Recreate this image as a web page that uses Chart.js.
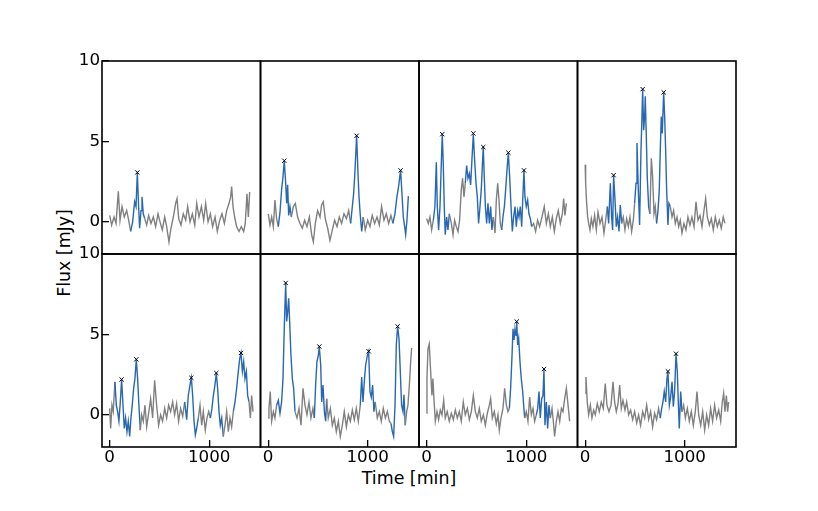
<!DOCTYPE html>
<html><head><meta charset="utf-8">
<script src="https://cdn.jsdelivr.net/npm/chart.js@4"></script>
<style>
html,body{margin:0;padding:0;background:#fff;}
#wrap{position:relative;width:818px;height:511px;overflow:hidden;font-family:"DejaVu Sans",sans-serif;background:#fff;}
#wrap canvas{position:absolute;left:0;top:0;}
.lab{position:absolute;font-size:17.4px;line-height:1;white-space:nowrap;color:#000;font-family:"DejaVu Sans",sans-serif;}
</style></head><body>
<div id="wrap">
 <div class="lab" style="left:409px;top:479px;transform:translate(-50%,-50%);">Time [min]</div>
 <div class="lab" style="left:65px;top:253px;transform:translate(-50%,-50%) rotate(-90deg);">Flux [mJy]</div>
</div>
<script>
// ---- data (time [min], flux [mJy]) ----
const xTicks = [0, 1000];
const yTicks = [0, 5, 10];

const flux1 = [[0,0.4],[20,-0.2],[44,0.3],[64,-0.1],[87,1.9],[104,0.1],[124,0.95],[147,0.3],[171,0.7],[191,0.1],[211,-0.6],[231,0],[251,1.25],[265,0.95],[278,3.05],[291,0.95],[301,-0.4],[315,0.7],[325,1.55],[338,0.5],[352,0.2],[372,-0.2],[392,0.4],[415,-0.1],[439,0.3],[462,-0.3],[486,0.5],[506,0],[529,-0.5],[553,0.3],[573,-0.3],[596,-1.25],[616,-0.4],[640,0.3],[663,1.15],[677,1.45],[694,0.2],[717,-0.2],[740,0.5],[764,0.1],[784,0.95],[808,0],[831,0.5],[855,-0.2],[875,1.15],[898,0.3],[922,0.95],[945,0.1],[965,1.15],[989,0],[1012,0.5],[1035,-0.3],[1059,0.3],[1082,-0.6],[1106,0.1],[1129,0.5],[1153,-0.1],[1176,0.7],[1200,1.15],[1216,1.55],[1226,2.2],[1240,0.95],[1256,0.3],[1276,-0.3],[1300,-0.6],[1323,-0.3],[1347,-0.6],[1363,-0.1],[1380,1.75],[1394,0.3],[1407,1.85]];
const flares1 = [[205,355]];
const peaks1 = [[278,3.07]];

const flux2 = [[1,0.5],[18,-0.2],[35,0.3],[52,-0.3],[68,1.35],[85,0.2],[102,-0.3],[119,0.6],[135,2.0],[149,2.8],[162,3.8],[176,2.4],[186,1.15],[196,2.3],[206,0.4],[219,0.95],[233,0.3],[253,0.95],[273,1.15],[296,0.3],[320,-0.1],[343,-0.4],[367,0.1],[390,-0.3],[414,0.3],[437,-0.8],[454,-1.25],[474,-0.1],[497,0.7],[521,0.3],[537,1.05],[554,1.25],[574,0.2],[598,-0.4],[621,-1.15],[645,-0.5],[668,0.1],[692,-0.3],[715,0.3],[738,-0.1],[762,0.5],[786,0.2],[809,0.7],[829,-0.1],[846,0.95],[859,1.75],[872,3.1],[889,5.35],[903,3.0],[913,1.55],[926,0.4],[940,-0.6],[956,0.3],[976,-0.5],[1000,0.1],[1023,-0.3],[1046,0.4],[1070,-0.1],[1094,0.3],[1117,-0.2],[1140,0.95],[1164,0.1],[1187,0.5],[1211,-0.1],[1234,0.4],[1254,-0.1],[1274,0.5],[1294,1.55],[1311,2.2],[1331,3.2],[1345,1.75],[1358,0.3],[1372,-0.3],[1382,-0.8],[1395,0.1],[1409,1.6]];
const flares2 = [[95,235],[815,960],[1245,1415]];
const peaks2 = [[162,3.8],[889,5.35],[1331,3.2]];

const flux3 = [[0,0.2],[16,-0.1],[33,0.3],[50,-0.5],[67,0.1],[83,0.95],[97,3.7],[107,0.95],[120,-0.5],[134,0.95],[147,3.6],[157,5.45],[167,3.6],[177,0.95],[187,-0.8],[201,0.3],[214,-0.5],[228,0.5],[248,-0.1],[265,-0.8],[281,0.1],[298,-0.3],[315,-0.6],[331,0.1],[348,2.0],[361,2.7],[375,1.55],[388,2.4],[402,3.5],[415,2.7],[429,3.0],[442,2.3],[455,3.85],[469,5.45],[482,3.85],[496,2.4],[509,1.55],[522,-0.1],[536,0.95],[549,2.0],[559,3.4],[569,4.65],[579,2.8],[590,0.95],[603,-0.1],[616,1.15],[630,-0.1],[643,0.95],[656,-0.5],[670,0.3],[687,-0.7],[700,1.35],[714,2.4],[727,1.35],[740,-0.1],[754,-0.5],[767,0.3],[781,0.95],[794,2.0],[807,3.2],[821,4.3],[834,2.8],[848,0.95],[861,-0.6],[874,0.3],[888,0.95],[901,-0.3],[915,0.7],[928,0.3],[941,0.95],[955,-0.3],[968,1.75],[978,3.2],[988,1.55],[1001,0.95],[1015,1.35],[1028,0.5],[1042,0.2],[1055,-0.3],[1075,-0.1],[1095,-0.6],[1115,0.1],[1135,-0.3],[1159,0.3],[1182,0.95],[1203,-0.1],[1223,0.5],[1243,-0.3],[1263,0.3],[1283,-0.6],[1303,0.2],[1323,0.7],[1343,-0.1],[1364,0.5],[1377,1.45],[1390,0.4],[1404,1.15]];
const flares3 = [[65,230],[385,672],[750,1058]];
const peaks3 = [[157,5.45],[469,5.5],[569,4.65],[821,4.3],[978,3.2]];

const flux4 = [[0,3.55],[5,2.4],[15,1.15],[25,0.3],[35,-0.1],[48,-0.5],[62,0.2],[78,-0.3],[95,0.4],[112,-0.5],[129,0.6],[149,-0.1],[169,0.3],[189,-0.7],[206,0.1],[223,0.95],[236,-0.1],[253,2.4],[266,0.3],[276,-0.5],[286,2.9],[300,1.35],[313,-0.3],[326,0.3],[340,-0.6],[353,1.05],[367,-0.1],[383,0.3],[400,-0.5],[417,0.2],[434,-0.3],[450,0.3],[467,-0.6],[484,0.1],[497,1.15],[511,2.4],[521,4.9],[534,2.0],[547,-0.2],[561,4.45],[571,6.55],[578,8.25],[588,5.7],[598,6.55],[604,7.8],[614,5.5],[624,2.8],[638,0.95],[651,0.5],[665,3.95],[678,2.8],[692,0.5],[705,0.95],[718,-0.1],[732,0.7],[745,2.0],[755,4.45],[765,6.55],[775,5.5],[789,8.05],[799,6.55],[809,4.45],[819,2.0],[832,-0.2],[842,1.15],[856,0.95],[873,0.3],[889,0.7],[906,-0.1],[923,0.3],[940,-0.3],[956,0.1],[973,-0.7],[993,-0.1],[1013,-0.5],[1033,0.3],[1053,-0.2],[1073,0.3],[1094,-0.3],[1114,1.25],[1134,0.1],[1154,0.4],[1174,-0.3],[1194,0.7],[1211,1.45],[1228,0.3],[1248,-0.2],[1268,0.2],[1288,-0.5],[1308,0.3],[1328,-0.3],[1348,0.1],[1368,-0.4],[1388,0.3],[1405,-0.1]];
const flares4 = [[215,370],[495,655],[715,860]];
const peaks4 = [[286,2.9],[578,8.25],[789,8.05]];

const flux5 = [[0,0.4],[10,-0.85],[23,0.6],[36,0.2],[53,2.05],[67,0.6],[80,0.2],[93,-0.4],[107,0.8],[120,2.2],[134,0.6],[147,-0.85],[160,-0.2],[174,-1.05],[187,-0.4],[201,-1.35],[214,-0.2],[227,0.6],[241,1.65],[254,2.25],[268,3.45],[281,2.25],[294,0.6],[308,-0.95],[321,0],[338,-0.4],[355,0.6],[372,-0.75],[392,0.1],[412,1.0],[432,-0.2],[452,2.15],[472,0.6],[492,-0.65],[512,0],[532,-0.4],[553,0.4],[573,-0.2],[593,0.6],[613,0.2],[633,0.8],[653,0],[673,0.7],[693,-0.4],[713,0.4],[734,-0.1],[754,0.8],[774,-0.3],[790,1.2],[807,1.85],[821,2.3],[834,1.2],[848,-0.4],[861,-1.25],[874,-0.85],[891,-0.2],[908,0.6],[925,-0.65],[941,0.2],[961,-0.95],[978,-0.2],[995,0.2],[1012,-0.2],[1028,0.4],[1042,1.2],[1058,1.85],[1072,2.6],[1085,1.65],[1099,0.2],[1112,-0.65],[1126,-0.2],[1142,-1.35],[1159,-0.65],[1176,0.2],[1193,-1.05],[1209,-0.2],[1226,-0.75],[1243,0.2],[1260,0.8],[1276,1.65],[1293,2.7],[1307,3.5],[1320,3.85],[1334,2.7],[1347,3.3],[1360,2.25],[1374,2.7],[1387,1.2],[1401,0.8],[1414,-0.2],[1427,1.2],[1441,0.2]];
const flares5 = [[45,320],[750,895],[1005,1155],[1240,1402]];
const peaks5 = [[120,2.2],[268,3.45],[821,2.3],[1072,2.6],[1320,3.85]];

const flux6 = [[0,-0.2],[8,0.4],[21,1.45],[35,-0.4],[52,0.2],[68,-0.2],[85,0.6],[102,0.9],[119,0.1],[135,0.8],[149,2.25],[162,5.4],[176,8.2],[186,5.8],[196,6.4],[206,7.25],[216,5.8],[229,3.7],[243,2.25],[256,1.65],[270,0.2],[290,-0.2],[310,0.4],[330,-0.65],[350,1.65],[370,0.6],[390,0],[410,0.8],[430,-0.2],[450,0.4],[464,-0.2],[477,1.85],[490,3.3],[504,3.7],[514,4.25],[528,3.1],[538,0.8],[551,1.85],[565,0.2],[578,-0.4],[588,1.0],[604,-0.2],[625,0.4],[645,-0.65],[665,-0.2],[685,-1.05],[705,-0.4],[725,-1.35],[745,-0.65],[765,0.2],[786,-0.75],[806,0],[826,-0.4],[846,0.3],[866,-0.3],[886,0.4],[906,-0.4],[926,0.6],[940,2.35],[953,0.8],[966,2.05],[980,3.1],[997,3.7],[1010,3.95],[1023,1.45],[1036,1.1],[1050,1.85],[1063,0.2],[1076,0.8],[1097,-0.2],[1117,0.2],[1137,-0.4],[1157,0.4],[1178,-0.2],[1198,0.2],[1218,-0.4],[1235,-0.55],[1248,-1.05],[1261,-1.35],[1275,0.6],[1288,4.35],[1301,5.5],[1315,4.75],[1328,2.7],[1341,0.6],[1355,0.2],[1365,1.25],[1378,-0.65],[1392,0.2],[1405,0.6],[1419,1.85],[1432,3.3],[1442,4.15]];
const flares6 = [[80,272],[455,592],[925,1080],[1230,1382]];
const peaks6 = [[176,8.2],[514,4.25],[1010,3.95],[1301,5.5]];

const flux7 = [[0,0.1],[3,2.25],[13,4.1],[26,4.4],[40,2.7],[53,1.2],[63,2.25],[73,1.0],[87,-0.4],[104,0.2],[120,-0.3],[137,0.3],[154,0],[171,0.9],[187,-0.2],[207,0.2],[227,-0.4],[248,0.1],[268,-0.3],[288,0.3],[308,-0.2],[328,0.2],[348,-0.4],[368,0.8],[388,0],[409,0.4],[429,-0.3],[449,0.2],[469,1.2],[489,0.2],[509,-0.2],[529,0.4],[549,-0.4],[570,0],[590,-0.65],[610,0.1],[630,0.6],[643,1.0],[660,-0.2],[680,0.2],[700,-0.55],[717,0],[730,-0.95],[747,-0.2],[767,0.4],[784,1.65],[801,0.6],[817,0.2],[831,0.4],[844,1.65],[858,3.7],[868,5.35],[878,4.65],[888,5.35],[898,4.95],[905,5.8],[915,4.35],[925,4.75],[938,3.3],[951,2.25],[965,1.45],[975,0.6],[985,-0.2],[1001,0.2],[1018,-0.4],[1035,1.1],[1052,0],[1069,0.4],[1085,-0.4],[1102,0],[1116,0.4],[1129,1.45],[1142,-0.2],[1156,1.0],[1169,1.2],[1179,2.85],[1189,-0.65],[1203,0.8],[1216,-0.85],[1229,0.6],[1243,-0.2],[1260,0.4],[1273,-0.4],[1286,-1.35],[1303,-0.4],[1320,0.2],[1337,-0.4],[1354,0.4],[1370,0.2],[1387,1.0],[1404,1.65],[1421,0.6],[1437,-0.4]];
const flares7 = [[828,987],[1098,1245]];
const peaks7 = [[905,5.8],[1179,2.85]];

const flux8 = [[0,1.35],[8,2.35],[21,0.8],[35,0],[52,0.6],[68,-0.2],[85,0.3],[102,0],[122,0.7],[142,0.2],[162,0.8],[182,0.4],[202,1.95],[219,0.6],[239,0.2],[260,0.6],[280,2.05],[296,0.8],[313,0.2],[330,0.7],[347,1.85],[363,0.4],[380,0.9],[400,0.3],[417,0.8],[437,0],[457,0.3],[477,-0.3],[497,0.2],[518,-0.5],[537,0],[557,-0.65],[578,0.2],[598,-0.2],[618,0.6],[638,-0.3],[658,0.2],[678,-0.75],[698,0.1],[718,-0.3],[738,0.4],[755,-0.2],[769,0.4],[782,0.8],[795,1.45],[809,0.8],[822,2.25],[832,2.7],[846,0.6],[859,1.1],[873,2.05],[886,0.5],[899,1.45],[913,3.8],[926,2.7],[936,0.8],[946,-0.85],[960,1.45],[973,0.2],[990,0.6],[1007,-0.2],[1027,0.4],[1047,-0.4],[1067,0.2],[1087,-0.65],[1107,0.2],[1124,1.45],[1141,0],[1161,-0.65],[1181,0.2],[1201,-0.95],[1221,0],[1241,-0.65],[1261,0.4],[1281,-0.4],[1301,0.6],[1321,-0.2],[1342,0.3],[1362,-0.4],[1378,0.8],[1392,1.35],[1405,0.2],[1419,1.2],[1432,0.2],[1442,0.8]];
const flares8 = [[752,975]];
const peaks8 = [[832,2.7],[913,3.8]];

// ---- layout / style ----
const W = 818, H = 511;
const COL_LEFT = [102, 260.5, 419, 577.5];
const ROW_TOP = [61, 254];
const PW = 158.5, PH = 193;
const YAXIS_W = 60, XAXIS_H = 40;
const XMIN = -77, XMAX = 1516, YMIN = -2, YMAX = 10;
const GREY = '#808080', BLUE = '#2867b2';
const FONT = {family: 'DejaVu Sans', size: 16.7};

const framePlugin = {
  id: 'frame',
  afterDraw(chart) {
    const {ctx, chartArea: a} = chart;
    ctx.save();
    ctx.strokeStyle = '#000';
    ctx.lineWidth = 1.6;
    ctx.strokeRect(a.left, a.top, a.right - a.left, a.bottom - a.top);
    ctx.restore();
  }
};

const wrap = document.getElementById('wrap');
const panels = [
  [flux1, flares1, peaks1], [flux2, flares2, peaks2], [flux3, flares3, peaks3], [flux4, flares4, peaks4],
  [flux5, flares5, peaks5], [flux6, flares6, peaks6], [flux7, flares7, peaks7], [flux8, flares8, peaks8]
];

panels.forEach(([pts, flares, peaks], idx) => {
  const col = idx % 4, row = Math.floor(idx / 4);
  const L = COL_LEFT[col], T = ROW_TOP[row];
  const showY = col === 0, showX = row === 1;
  const cv = document.createElement('canvas');
  cv.width = W; cv.height = H;
  cv.style.width = W + 'px'; cv.style.height = H + 'px';
  wrap.appendChild(cv);
  const inFlare = x => flares.some(([a, b]) => x >= a && x <= b);
  new Chart(cv, {
    type: 'line',
    data: {
      datasets: [
        {
          type: 'scatter',
          data: peaks.map(([x, y]) => ({x, y})),
          pointStyle: 'crossRot', pointRadius: 3, borderColor: '#000', backgroundColor: '#000',
          borderWidth: 1, showLine: false, order: 0
        },
        {
          data: pts.map(([x, y]) => ({x, y})),
          borderColor: GREY, borderWidth: 1.4, pointRadius: 0, tension: 0, fill: false, order: 1,
          segment: {borderColor: c => (inFlare(c.p0.parsed.x) && inFlare(c.p1.parsed.x)) ? BLUE : GREY}
        }
      ]
    },
    options: {
      responsive: false, animation: false, devicePixelRatio: 1, events: [],
      layout: {padding: {
        left: showY ? L - YAXIS_W : L,
        top: T,
        right: W - (L + PW),
        bottom: showX ? H - (T + PH) - XAXIS_H : H - (T + PH)
      }},
      plugins: {legend: {display: false}, tooltip: {enabled: false}, title: {display: false}},
      scales: {
        x: {
          type: 'linear', min: XMIN, max: XMAX, position: 'bottom', display: showX,
          afterFit: s => { s.height = showX ? XAXIS_H : 0; s.paddingLeft = 0; s.paddingRight = 0; },
          afterBuildTicks: s => { s.ticks = xTicks.map(v => ({value: v})); },
          border: {display: false},
          grid: {display: true, drawOnChartArea: false, drawTicks: true, tickLength: -7, color: '#000', lineWidth: 1.3},
          ticks: {padding: 7.5, color: '#000', font: FONT, callback: v => String(v), maxRotation: 0, autoSkip: false}
        },
        y: {
          type: 'linear', min: YMIN, max: YMAX, position: 'left', display: showY,
          afterFit: s => { s.width = showY ? YAXIS_W : 0; s.paddingTop = 0; s.paddingBottom = 0; },
          afterBuildTicks: s => { s.ticks = yTicks.map(v => ({value: v})); },
          border: {display: false},
          grid: {display: true, drawOnChartArea: false, drawTicks: true, tickLength: -7, color: '#000', lineWidth: 1.3},
          ticks: {padding: 9, color: '#000', font: FONT, callback: v => String(v), autoSkip: false}
        }
      }
    },
    plugins: [framePlugin]
  });
});
</script>
</body></html>
